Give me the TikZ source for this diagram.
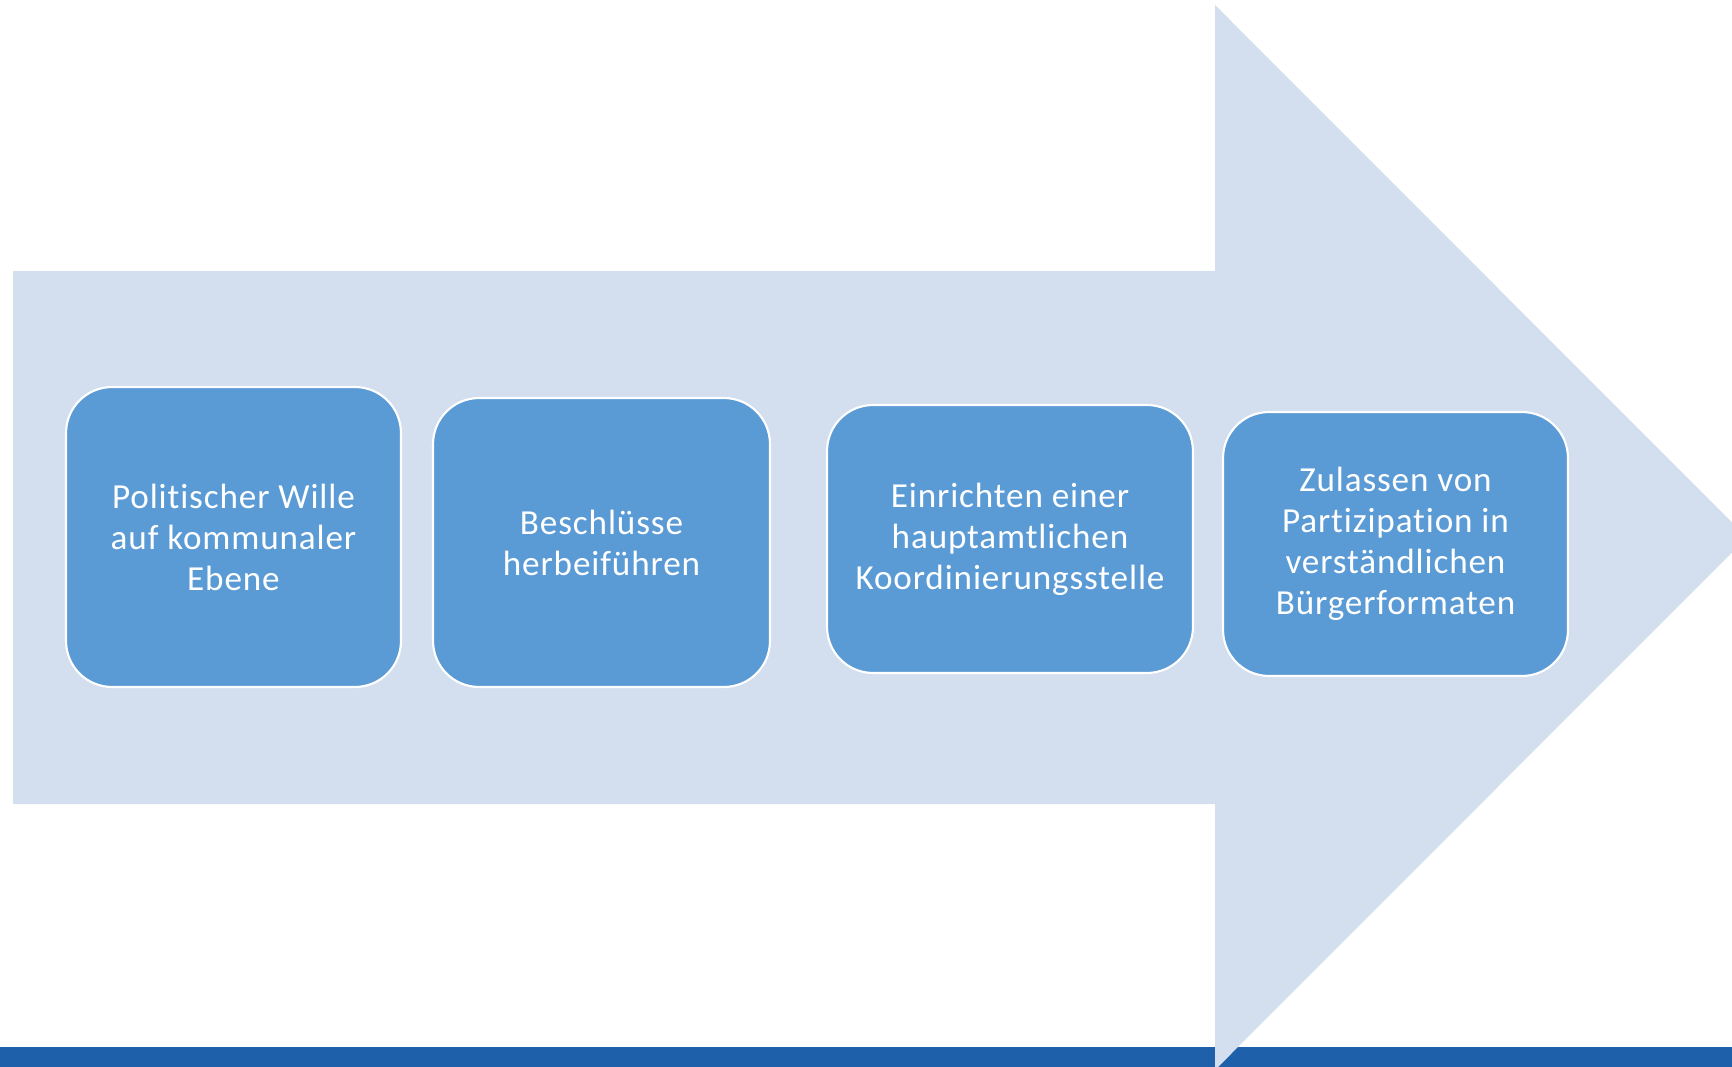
\documentclass[tikz,border=0pt]{standalone}
\usepackage{fontspec}
\setmainfont{Carlito}[LetterSpace=2.5,Ligatures=NoCommon]
\definecolor{arrowblue}{RGB}{211,222,239}
\definecolor{boxblue}{RGB}{91,155,213}
\definecolor{barblue}{RGB}{30,96,170}
\begin{document}
\begin{tikzpicture}[x=0.02cm,y=-0.02cm]
			\useasboundingbox (0,0) rectangle (1732,1067);
			\clip (0,0) rectangle (1732,1067);
			\fill[barblue] (0,1047) rectangle (1732,1067);
			\fill[arrowblue] (13,271) -- (1215,271) -- (1215,5) -- (1747,537.5)
				-- (1215,1070) -- (1215,804) -- (13,804) -- cycle;
			\begin{scope}[every node/.style={rectangle,rounded corners=0.92cm,draw=white,
				line width=1.2pt,fill=boxblue,text=white,align=center,inner sep=0pt,
				font=\fontsize{20}{23.3}\selectfont}]
			\node (A) at (233.5,537) [minimum width=6.7cm,minimum height=6cm]
				{Politischer Wille\\auf kommunaler\\Ebene};
			\node (B) at (601.5,542.5) [minimum width=6.74cm,minimum height=5.78cm]
				{Beschlüsse\\herbeiführen};
			\node (C) at (1010,539) [minimum width=7.32cm,minimum height=5.36cm]
				{Einrichten einer\\hauptamtlichen\\Koordinierungsstelle};
			\node (D) at (1395.5,544) [minimum width=6.9cm,minimum height=5.28cm]
				{Zulassen von\\Partizipation in\\verständlichen\\Bürgerformaten};
			\end{scope}
			\end{tikzpicture}
\end{document}
